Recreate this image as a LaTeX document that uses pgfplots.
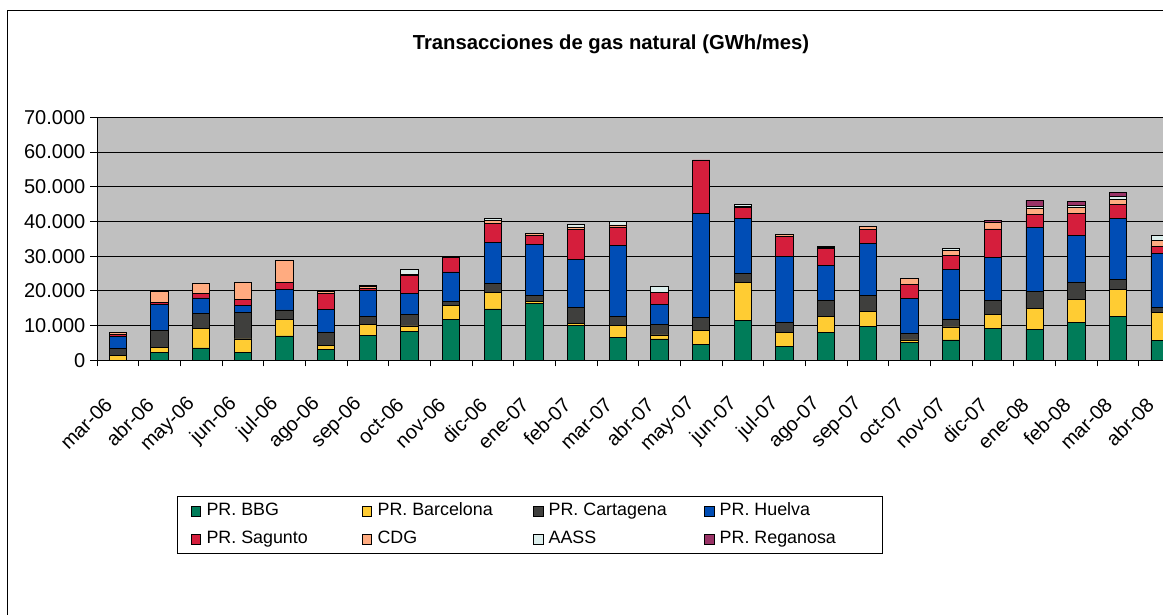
\documentclass[border=0pt]{standalone}
\usepackage{pgfplots}
\pgfplotsset{compat=1.18}
\usepackage{pgfplotstable}
\usepackage{fontspec}
\setmainfont{Liberation Sans}

\definecolor{cbbg}{RGB}{0,124,89}
\definecolor{cbcn}{RGB}{255,204,51}
\definecolor{ccar}{RGB}{63,63,61}
\definecolor{chue}{RGB}{0,77,181}
\definecolor{csag}{RGB}{213,30,60}
\definecolor{ccdg}{RGB}{255,171,128}
\definecolor{caass}{RGB}{220,238,236}
\definecolor{creg}{RGB}{153,51,102}
\definecolor{plotgrey}{RGB}{192,192,192}

% GWh/mes por punto de entrada
\pgfplotstableread{
x  bbg   bcn   car   hue   sag   cdg  aass reg
0  0     1500  1800  3600  500   700  0    0
1  2200  1450  4900  7500  700   3000 0    0
2  3550  5700  4250  4450  1250  2900 0    0
3  2200  3950  7700  1850  1900  4800 0    0
4  7000  4800  2700  6000  1900  6350 0    0
5  3000  1350  3750  6450  4600  700  0    0
6  7200  3200  2300  7400  650   400  450  0
7  8200  1700  3200  6250  5000  300  1600 0
8  11850 3850  1350  8400  4050  200  300  0
9  14800 4800  2600  11750 5600  850  400  0
10 16450 500   1750  14550 2700  650  0    0
11 10000 650   4650  13850 8650  600  650  0
12 6650  3350  2700  20500 5200  600  1150 0
13 6150  1150  3100  5600  3650  0    1750 0
14 4450  4050  3850  29950 15400 0    0    0
15 11550 10900 2600  15800 3250  300  450  0
16 3950  4150  2700  19150 5600  750  0    0
17 8100  4500  4550  10100 4900  300  450  0
18 9650  4400  4600  15000 4150  650  0    0
19 5200  650   1950  10100 4050  1650 0    0
20 5850  3750  2300  14150 4150  1350 550  0
21 9250  3850  4050  12400 8300  1750 0    750
22 8950  5900  4900  18400 3850  1750 450  1850
23 10900 6650  4900  13400 6450  1750 450  1150
24 12600 7900  2700  17550 4150  1450 750  1150
25 5600  8200  1550  15300 2200  1750 1250 0
}\datos

\pgfplotsset{
  sq/.style={draw=black, line width=0.6pt,
    legend image code/.code={\draw[##1,draw=black,line width=0.6pt] (0pt,-3.6pt) rectangle (7.2pt,3.6pt);}},
}

\begin{document}
\begin{tikzpicture}
\useasboundingbox (0,0) rectangle (872.25pt,460.5pt);
\clip (0,0) rectangle (872.25pt,460.5pt);
\fill[white] (0,0) rectangle (872.25pt,460.5pt);
\draw[black, line width=0.75pt] (5.25pt,452.25pt) rectangle (900pt,-20pt);
\node[font=\bfseries\fontsize{15.2}{18}\selectfont] at (458.25pt,427.5pt) {Transacciones de gas natural (GWh/mes)};
\begin{axis}[
  at={(72.75pt,190.28pt)}, anchor=south west,
  scale only axis, width=812.55pt, height=182.25pt,
  ybar stacked, bar width=13pt,
  xmin=-0.5, xmax=25.5, ymin=0, ymax=70000,
  axis background/.style={fill=plotgrey},
  axis line style={black, line width=0.75pt},
  xtick={0,...,25},
  xticklabels={mar-06,abr-06,may-06,jun-06,jul-06,ago-06,sep-06,oct-06,nov-06,dic-06,ene-07,feb-07,mar-07,abr-07,may-07,jun-07,jul-07,ago-07,sep-07,oct-07,nov-07,dic-07,ene-08,feb-08,mar-08,abr-08},
  minor xtick={-0.5,0.5,...,25.5},
  major x tick style={draw=none},
  minor x tick style={draw=black, line width=0.75pt},
  ytick={0,10000,...,70000},
  tick align=outside, major tick length=5.25pt, minor tick length=4.5pt,
  tick style={black, line width=0.75pt},
  xtick pos=bottom, ytick pos=left,
  ymajorgrids, major grid style={black, line width=0.6pt},
  scaled y ticks=false,
  /pgf/number format/.cd, 1000 sep={.}, assume math mode=true, /pgfplots/.cd,
  tick label style={font=\fontsize{15}{18}\selectfont},
  xticklabel style={xshift=-4.5pt, rotate=45, anchor=east},
  xticklabel shift=23pt,
  legend columns=4,
  legend cell align=left,
  legend style={at={(0.0738,-0.5584)}, anchor=north west, draw=black, line width=0.75pt,
    font=\fontsize{13.4}{16}\selectfont, inner xsep=10pt, inner ysep=2.5pt,
    nodes={inner sep=2pt, text height=10pt, text depth=3pt},
    /tikz/every even column/.append style={column sep=4.5pt},
    /tikz/every odd column/.append style={column sep=2pt},
    row sep=4pt},
]
\addplot[sq, fill=cbbg] table[x=x, y=bbg] {\datos};
\addlegendentry{\makebox[110pt][l]{PR. BBG}}
\addplot[sq, fill=cbcn] table[x=x, y=bcn] {\datos};
\addlegendentry{\makebox[110pt][l]{PR. Barcelona}}
\addplot[sq, fill=ccar] table[x=x, y=car] {\datos};
\addlegendentry{\makebox[110pt][l]{PR. Cartagena}}
\addplot[sq, fill=chue] table[x=x, y=hue] {\datos};
\addlegendentry{\makebox[110pt][l]{PR. Huelva}}
\addplot[sq, fill=csag] table[x=x, y=sag] {\datos};
\addlegendentry{\makebox[110pt][l]{PR. Sagunto}}
\addplot[sq, fill=ccdg] table[x=x, y=cdg] {\datos};
\addlegendentry{\makebox[110pt][l]{CDG}}
\addplot[sq, fill=caass] table[x=x, y=aass] {\datos};
\addlegendentry{\makebox[110pt][l]{AASS}}
\addplot[sq, fill=creg] table[x=x, y=reg] {\datos};
\addlegendentry{\makebox[110pt][l]{PR. Reganosa}}
\end{axis}
\end{tikzpicture}
\end{document}
